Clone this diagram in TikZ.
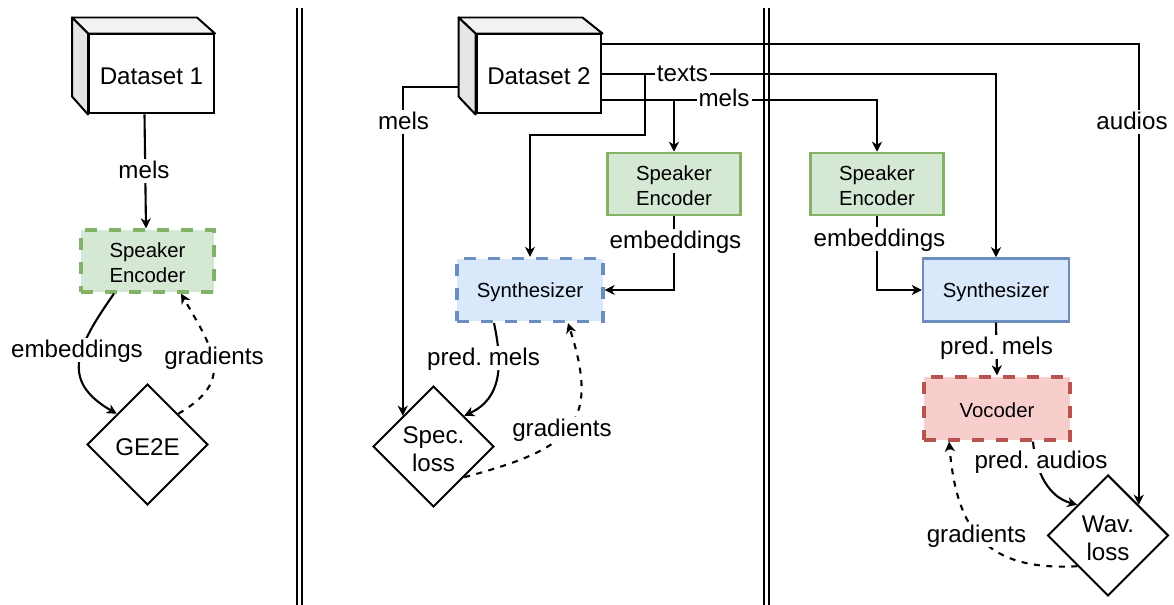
\documentclass[tikz,border=0pt]{standalone}
\usepackage{fontspec}
\setmainfont{Liberation Sans}
\usetikzlibrary{arrows.meta,shapes.geometric}
\frenchspacing

\definecolor{enc}{HTML}{D5E8D4}
\definecolor{encd}{HTML}{82B366}
\definecolor{syn}{HTML}{DAE8FC}
\definecolor{synd}{HTML}{6C8EBF}
\definecolor{voc}{HTML}{F8CECC}
\definecolor{vocd}{HTML}{B85450}

\newcommand{\lift}{\rule{0pt}{.9em}}

\tikzset{
  big/.style={font=\fontsize{13.75}{16}\selectfont},
  small/.style={font=\fontsize{11.6}{14.4}\selectfont},
  front/.style={draw,line width=.04cm,fill=white,big,minimum width=2.5cm,minimum height=1.58cm,inner sep=0},
  top face/.style={draw,line width=.04cm,fill=black!5,line join=round},
  side face/.style={draw,line width=.04cm,fill=black!10,line join=round},
  unit/.style={small,align=center,minimum width=2.66cm,minimum height=1.24cm,inner sep=0,line width=.05cm},
  trained/.style={line width=.065cm,dash pattern=on .24cm off .24cm},
  encoder/.style={unit,draw=encd,fill=enc},
  synth/.style={unit,draw=synd,fill=syn,minimum width=2.92cm,minimum height=1.26cm},
  vocoder/.style={unit,draw=vocd,fill=voc,minimum width=2.92cm,minimum height=1.26cm},
  loss/.style={draw,diamond,aspect=1,big,align=center,minimum width=2.42cm,minimum height=2.42cm,inner sep=0,line width=.04cm},
  lbl/.style={big,fill=white,inner sep=.04cm,text height=.95em,text depth=.15em},
  flow/.style={->,line width=.042cm},
  grad/.style={->,line width=.042cm,dash pattern=on .12cm off .13cm},
}

\begin{document}
\begin{tikzpicture}[x=.02cm, y=.02cm, >={Stealth[length=.2cm,width=.2cm,inset=.06cm]}]
  \useasboundingbox (0,0) rectangle (1174,605);

  \node[front](d1) at (151.5,531) {\lift Dataset 1};
  \node[front](d2) at (539,531) {\lift Dataset 2};
  \draw[top face] (d1.north west) -- ++(-16,16) -- ++(125,0) -- (d1.north east) -- cycle;
  \draw[side face] (d1.north west) -- ++(-16,16) -- ++(0,-79) -- (d1.south west) -- cycle;
  \draw[top face] (d2.north west) -- ++(-17,16) -- ++(124,0) -- (d2.north east) -- cycle;
  \draw[side face] (d2.north west) -- ++(-17,16) -- ++(0,-79) -- (d2.south west) -- cycle;

  \node[encoder,trained](enc1) at (147.5,344) {\lift Speaker\\Encoder};
  \node[loss](ge) at (147.5,160.5) {\lift GE2E};
  \node[encoder](enc2) at (674,421) {\lift Speaker\\Encoder};
  \node[synth,trained](syn1) at (530,315) {\lift Synthesizer};
  \node[loss](spec) at (433.5,158.5) {\lift Spec.\\loss};
  \node[encoder](enc3) at (877,421) {\lift Speaker\\Encoder};
  \node[synth](syn2) at (996,315) {\lift Synthesizer};
  \node[vocoder,trained](vo) at (997,196.5) {\lift Vocoder};
  \node[loss](wav) at (1108,69.5) {\lift Wav.\\loss};

  \coordinate(sa) at (299.5,597);
  \coordinate(sb) at (299.5,0);
  \coordinate(sc) at (766,597);
  \coordinate(sd) at (766,0);
  \draw[line width=.04cm,double,double distance=.06cm] (sa) -- (sb);
  \draw[line width=.04cm,double,double distance=.06cm] (sc) -- (sd);

  \coordinate(au) at ([yshift=.6cm]d2.east);
  \coordinate(me) at ([yshift=-.52cm]d2.east);
  \coordinate(tx) at (645,531);
  \coordinate(cb) at ([shift={(-.34cm,-.26cm)}]d2.west);

  \draw[flow] ([xshift=-.14cm]d1.south) -- ([xshift=-.03cm]enc1.north);
  \draw[flow] ([xshift=-.67cm]enc1.south) to[out=-125,in=150,looseness=1.4] (ge.135);
  \draw[grad] (ge.45) to[out=30,in=-60,looseness=1.4] ([xshift=.67cm]enc1.south);

  \draw[flow] (cb) -| (spec.135);
  \draw[flow] (d2.east) -| (syn2.north);
  \draw[flow] (tx) -- ++(0,-61) -| (syn1.north);
  \draw[flow] (me) -| (enc3.north);
  \draw[flow] (me -| enc2.north) -- (enc2.north);
  \draw[flow] (au) -| (wav.45);
  \draw[flow] (enc2.south) |- (syn1.east);
  \draw[flow] ([xshift=-.72cm]syn1.south) to[out=-78,in=25,looseness=1.1] (spec.45);
  \draw[grad] (spec.-45) to[out=15,in=-72,looseness=1.5] ([xshift=.76cm]syn1.south);

  \draw[flow] (enc3.south) |- (syn2.west);
  \draw[flow] (syn2.south) -- (vo.north);
  \draw[flow] ([xshift=.72cm]vo.south) to[out=-85,in=165] (wav.135);
  \draw[grad] (wav.-135) to[out=183,in=-85,looseness=1.3] ([xshift=-.96cm]vo.south);

  \node[lbl](l1) at (144,434) {mels};
  \node[lbl](l2) at (77,255) {embeddings};
  \node[lbl](l3) at (214,248) {gradients};
  \node[lbl](l4) at (403.5,483) {mels};
  \node[lbl](l5) at (682.5,531) {texts};
  \node[lbl](l6) at (724,506) {mels};
  \node[lbl](l7) at (675.5,364) {embeddings};
  \node[lbl](l8) at (483.5,247) {pred. mels};
  \node[lbl](l9) at (562,176) {gradients};
  \node[lbl](l10) at (1132,483) {audios};
  \node[lbl](l11) at (879.5,366) {embeddings};
  \node[lbl](l12) at (996.5,258) {pred. mels};
  \node[lbl](l13) at (1041,144) {pred. audios};
  \node[lbl](l14) at (976.5,70) {gradients};
\end{tikzpicture}
\end{document}
